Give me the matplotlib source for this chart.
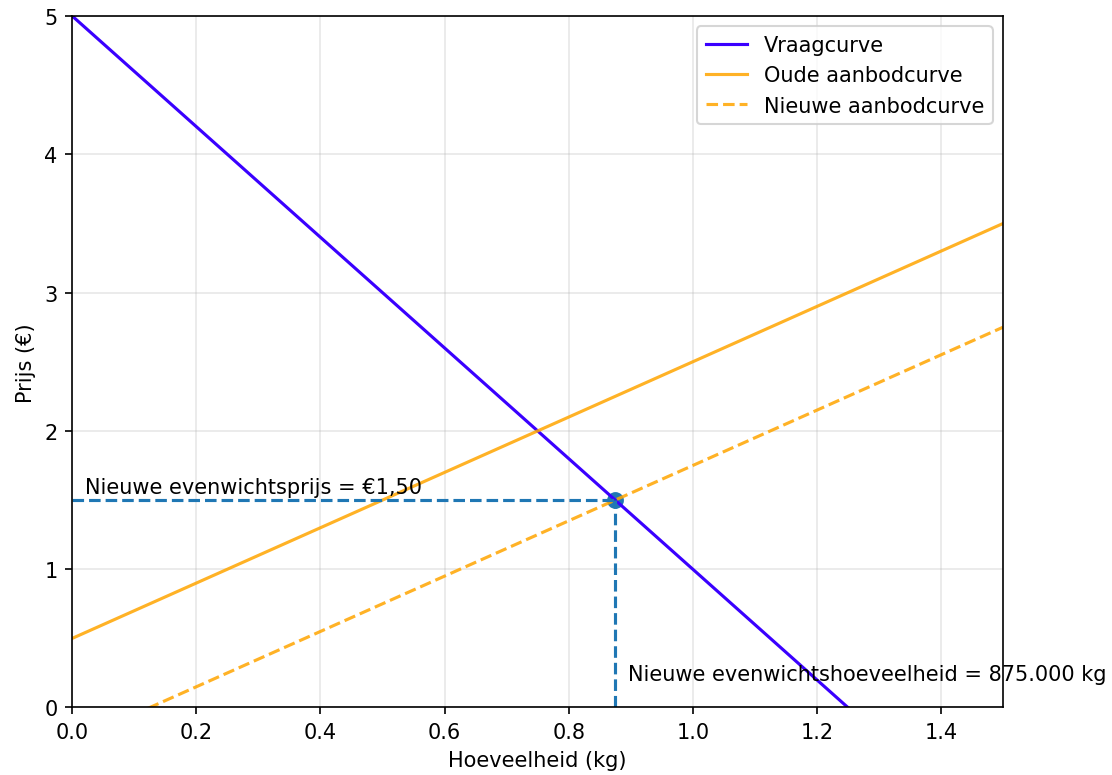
import numpy as np
import matplotlib
matplotlib.use("Agg")
import matplotlib.pyplot as plt

# hoeveelheden voor de curves
q = np.array([0.0, 0.125, 0.875, 1.25, 1.5])
vraag = np.array([5.0, 4.5, 1.5, 0.0, -1.0])
oud_aanbod = np.array([0.5, 0.75, 2.25, 3.0, 3.5])
nieuw_aanbod = np.array([-0.25, 0.0, 1.5, 2.25, 2.75])

eq_q = 0.875
eq_p = 1.5

fig, ax = plt.subplots(figsize=(1112 / 150, 776 / 150), dpi=150)
fig.subplots_adjust(left=0.065, right=0.902, top=0.978, bottom=0.087)

ax.scatter([eq_q], [eq_p], color="C0", s=50, zorder=1)
ax.plot(q, vraag, color="#3a00ff", label="Vraagcurve")
ax.plot(q, oud_aanbod, color="orange", alpha=0.85, label="Oude aanbodcurve")
ax.plot(q, nieuw_aanbod, color="orange", alpha=0.85, linestyle="--",
        label="Nieuwe aanbodcurve")

ax.hlines(eq_p, 0, eq_q, colors="C0", linestyles="--")
ax.vlines(eq_q, 0, eq_p, colors="C0", linestyles="--")

ax.text(0.02, eq_p + 0.05, "Nieuwe evenwichtsprijs = €1,50")
ax.text(eq_q + 0.02, 0.2, "Nieuwe evenwichtshoeveelheid = 875.000 kg")

ax.set_xlim(0, 1.5)
ax.set_ylim(0, 5)
ax.set_xlabel("Hoeveelheid (kg)")
ax.set_ylabel("Prijs (€)")
ax.grid(True, alpha=0.3)
ax.legend(loc="upper right")

fig.savefig("out.png")
